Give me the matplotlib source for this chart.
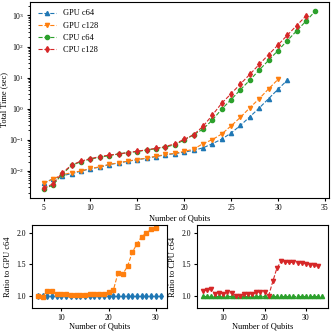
import numpy as np
import matplotlib
matplotlib.use("Agg")
import matplotlib.pyplot as plt

plt.rcParams['font.family'] = ['Liberation Serif', 'DejaVu Serif']
plt.rcParams['mathtext.fontset'] = 'stix'

# timings (sec)
gpu_c64_qubits = list(range(5, 32))
gpu_c64 = [0.0040, 0.0056, 0.0070, 0.0082, 0.0098, 0.0118, 0.0132, 0.0160,
           0.0180, 0.0205, 0.0230, 0.0255, 0.0290, 0.0330, 0.0360, 0.0400,
           0.0460, 0.0550, 0.0750, 0.105, 0.165, 0.29, 0.55, 1.05, 2.1,
           4.2, 8.3]

gpu_c128_qubits = list(range(5, 31))
gpu_c128 = [0.0040, 0.0055, 0.0075, 0.0088, 0.0100, 0.0120, 0.0135, 0.0162,
            0.0182, 0.0207, 0.0232, 0.0260, 0.0296, 0.0337, 0.0367, 0.0424,
            0.0500, 0.0750, 0.101, 0.154, 0.279, 0.53, 1.07, 2.1, 4.33,
            8.74]

cpu_c64_qubits = list(range(5, 35))
cpu_c64 = [0.0026, 0.0035, 0.0080, 0.0150, 0.0200, 0.0240, 0.0276, 0.0310,
           0.0350, 0.0390, 0.0420, 0.0470, 0.0520, 0.0580, 0.0700, 0.0980,
           0.145, 0.22, 0.43, 0.97, 1.96, 4.1, 8.3, 17.5, 36.0, 74.0,
           155.0, 320.0, 660.0, 1400.0]

cpu_c128_qubits = list(range(5, 34))
cpu_c128 = [0.0028, 0.0038, 0.0088, 0.0154, 0.0208, 0.0247, 0.0290, 0.0322,
            0.0350, 0.0390, 0.0428, 0.0479, 0.0530, 0.0609, 0.0742, 0.1039,
            0.145, 0.27, 0.62, 1.50, 3.02, 6.27, 12.7, 26.6, 54.7, 111.7,
            232.0, 474.0, 970.0]

fig = plt.figure(figsize=(3.32, 3.33), dpi=100)

# main timing plot
ax = fig.add_axes([0.0904, 0.4054, 0.9006, 0.5886])
ax.plot(gpu_c64_qubits, gpu_c64, '--^', color='tab:blue', ms=3, lw=0.8, label='GPU c64')
ax.plot(gpu_c128_qubits, gpu_c128, '--v', color='tab:orange', ms=3, lw=0.8, label='GPU c128')
ax.plot(cpu_c64_qubits, cpu_c64, '--o', color='tab:green', ms=3, lw=0.8, label='CPU c64')
ax.plot(cpu_c128_qubits, cpu_c128, '--d', color='tab:red', ms=3, lw=0.8, label='CPU c128')
ax.set_yscale('log')
ax.set_xticks([5, 10, 15, 20, 25, 30, 35])
ax.set_xlabel('Number of Qubits', fontsize=6, labelpad=2)
ax.set_ylabel('Total Time (sec)', fontsize=6, labelpad=1)
ax.tick_params(labelsize=5.5, length=2.5, pad=1.5)
ax.tick_params(which='minor', length=1.5)
ax.legend(loc='upper left', fontsize=6, frameon=False, handlelength=2.2)

# ratios to the c64 runs
gpu_ratio = np.array(gpu_c128) / np.array(gpu_c64[:len(gpu_c128)])
gpu_self = np.array(gpu_c64) / np.array(gpu_c64)
cpu_ratio = np.array(cpu_c128) / np.array(cpu_c64[:len(cpu_c128)])
cpu_self = np.array(cpu_c64) / np.array(cpu_c64)

ax1 = fig.add_axes([0.0955, 0.0751, 0.4066, 0.2492])
ax1.plot(gpu_c64_qubits, gpu_self, '--d', color='tab:blue', ms=3, lw=0.8)
ax1.plot(gpu_c128_qubits, gpu_ratio, '--s', color='tab:orange', ms=3, lw=0.8)
ax1.set_ylabel('Ratio to GPU c64', fontsize=6, labelpad=3.5)
ax1.set_xlabel('Number of Qubits', fontsize=6, labelpad=1)

ax2 = fig.add_axes([0.5925, 0.0751, 0.3964, 0.2492])
ax2.plot(cpu_c64_qubits, cpu_self, '--^', color='tab:green', ms=3, lw=0.8)
ax2.plot(cpu_c128_qubits, cpu_ratio, '--v', color='tab:red', ms=3, lw=0.8)
ax2.set_ylabel('Ratio to CPU c64', fontsize=6, labelpad=3.5)
ax2.set_xlabel('Number of Qubits', fontsize=6, labelpad=1)

for a in (ax1, ax2):
    a.set_ylim(0.8, 2.13)
    a.set_yticks([1.0, 1.5, 2.0])
    a.set_xticks([10, 20, 30])
    a.tick_params(labelsize=5.5, length=2.5, pad=1.5)

fig.savefig('out.png', dpi=100)
